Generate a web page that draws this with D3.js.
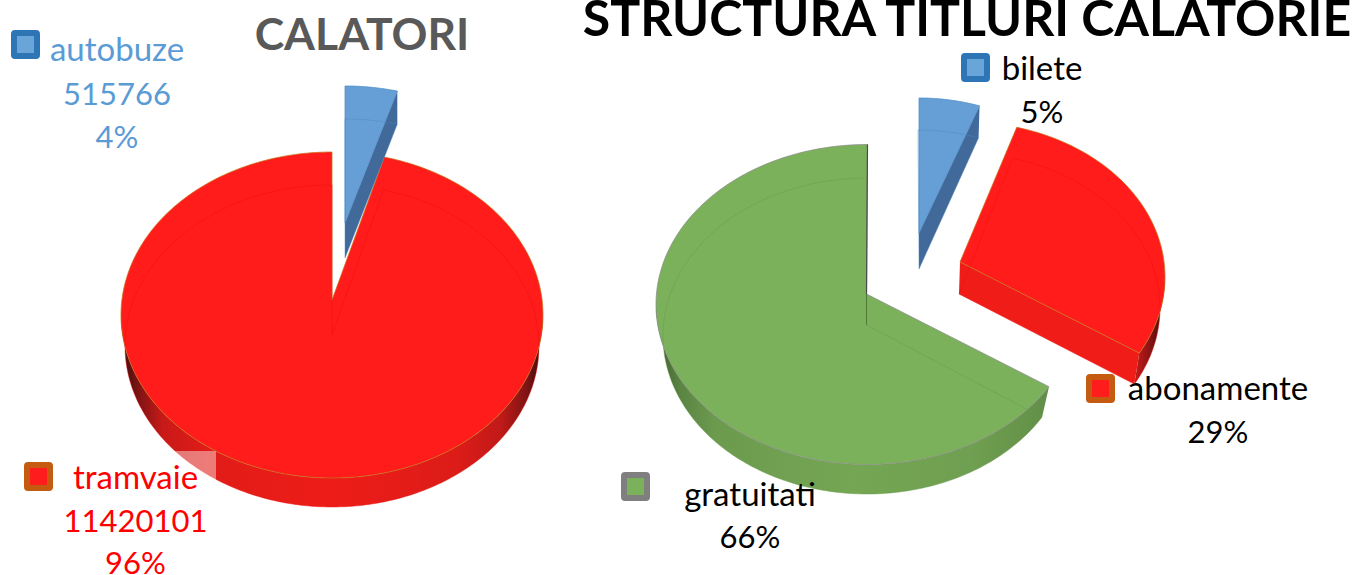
<!DOCTYPE html>
<html>
<head>
<meta charset="utf-8">
<title>Calatori</title>
<script src="https://cdn.jsdelivr.net/npm/d3@7"></script>
<style>
  html, body { margin: 0; padding: 0; background: #fff; overflow: hidden; }
  svg { display: block; }
  text { font-family: Lato, "Open Sans", sans-serif; }
</style>
</head>
<body>
<svg id="chart"></svg>
<script>
const width = 1356;
const height = 575;

// data
const calatoriNames = ["autobuze", "tramvaie"];
const calatoriValues = [515766, 11420101];
const calatoriPercents = ["4%", "96%"];

const titluriNames = ["bilete", "abonamente", "gratuitati"];
const titluriValues = [5, 29, 66];
const titluriPercents = ["5%", "29%", "66%"];

const BLUE = { top: "#659fd6", rim: "#4f8cc8", hair: "#4c88c2", face: "#41699a", border: "#2e75b6", key: "#6aa5da",
    side: [[0, "#41699a"], [1, "#41699a"]] };
const RED = { top: "#ff1c1a", rim: "#c8701a", hair: "#ee0f0f", face: "#f01c18", border: "#c55a11", key: "#ff1c1c",
    side: [[0, "#3f0d0d"], [0.05, "#8a1414"], [0.1, "#c81a18"], [0.2, "#e01c18"], [0.5, "#ee1c18"],
        [0.8, "#dc1c18"], [0.9, "#c01a18"], [0.96, "#801414"], [1, "#3a0c0c"]] };
const GREEN = { top: "#7bb15a", rim: "#8c8c8c", hair: "#6a9a4c", face: "#6b9a4e", border: "#7f7f7f", key: "#7bb15a",
    side: [[0, "#3f5e30"], [0.06, "#5a8442"], [0.15, "#6c9a4e"], [0.5, "#74a653"], [0.8, "#6f9f50"], [1, "#628f48"]] };
const RED_OPEN = Object.assign({}, RED, { side: [[0, "#c81c18"], [0.5, "#8a1414"], [1, "#3f0a0a"]] });

// every slice of the 3d pie is its own ellipse pair: top face and bottom face
const calatoriShapes = [
    { c: BLUE, top: [345, 249, 211, 163], bot: [345, 282, 211, 163], apex: [345, 223], apexBot: [345, 258], da0: 0, da1: -1.2 },
    { c: RED, top: [332, 315, 211, 163], bot: [332, 346, 207, 161], apex: [332, 300], apexBot: [332, 335], da0: -1.2, da1: 0 }
];
const titluriShapes = [
    { c: BLUE, top: [919, 258, 196, 160], bot: [918, 290, 196, 160], apex: [919, 233], apexBot: [919, 269], da0: 0, da1: 0 },
    { c: RED_OPEN, top: [965, 277, 200, 155], bot: [961, 308, 199, 155], apex: [960, 262], apexBot: [959, 294], da0: -3, da1: -3 },
    { c: GREEN, top: [867.5, 304.5, 211.5, 160], bot: [867, 336, 204, 158], apex: [866.5, 294], apexBot: [866.5, 325], da0: -1.5, da1: 0 }
];

const labelSpots = [
    { x: 117, y: [61, 105, 148], key: [11, 30], fill: "#5b9bd5", c: BLUE },
    { x: 135.5, y: [489, 532, 574], key: [24, 462], fill: "#ff0000", c: RED },
    { x: 1042, y: [80, 123], key: [961, 53], fill: "#000", c: BLUE },
    { x: 1218, y: [400, 443], key: [1086, 374], fill: "#000", c: RED },
    { x: 750, y: [506, 548], key: [621, 472], fill: "#000", c: GREEN }
];

const svg = d3.select("#chart")
    .attr("width", width)
    .attr("height", height);
const defs = svg.append("defs");

const pie = d3.pie().sort(null).value(d => d);

// unit circle -> pixels, one pair of scales for each ellipse
function ellipse([cx, cy, rx, ry]) {
    const x = d3.scaleLinear().domain([-1, 1]).range([cx - rx, cx + rx]);
    const y = d3.scaleLinear().domain([-1, 1]).range([cy + ry, cy - ry]);
    return a => [x(Math.sin(a)), y(Math.cos(a))];
}

function arcPoints(proj, a0, a1) {
    const n = Math.max(2, Math.ceil(Math.abs(a1 - a0) / 0.02));
    return d3.range(n + 1).map(i => proj(a0 + (a1 - a0) * i / n));
}

const line = d3.line();
const closed = pts => line(pts) + "Z";
const deg = Math.PI / 180;
let gradId = 0;

function sideGradient(stops) {
    const id = "side" + (gradId++);
    const g = defs.append("linearGradient").attr("id", id);
    stops.forEach(([offset, col]) => {
        g.append("stop").attr("offset", offset).attr("stop-color", col);
    });
    return `url(#${id})`;
}

function drawSlice(d, shape) {
    const a0 = d.startAngle + shape.da0 * deg;
    const a1 = d.endAngle + shape.da1 * deg;
    const top = ellipse(shape.top);
    const bot = ellipse(shape.bot);
    const g = svg.append("g");

    // outer wall, only the part turned to the viewer
    const s0 = Math.max(a0, Math.PI / 2);
    const s1 = Math.min(a1, 3 * Math.PI / 2);
    if (s1 > s0) {
        g.append("path")
            .attr("d", closed(arcPoints(top, s0, s1).concat(arcPoints(bot, s1, s0))))
            .attr("fill", sideGradient(shape.c.side));
    }

    // cut face at the end of the slice
    if (a1 < Math.PI) {
        g.append("path")
            .attr("d", closed([shape.apex, top(a1), bot(a1), shape.apexBot]))
            .attr("fill", shape.c.face);
    }

    // top face
    g.append("path")
        .attr("d", closed([shape.apex].concat(arcPoints(top, a0, a1))))
        .attr("fill", shape.c.top)
        .attr("stroke", shape.c.rim)
        .attr("stroke-opacity", 0.75)
        .attr("stroke-width", 1);

    // bottom outline shows through the glassy top
    g.append("path")
        .attr("d", closed([shape.apexBot].concat(arcPoints(bot, a0, a1))))
        .attr("fill", "none")
        .attr("stroke", shape.c.hair)
        .attr("stroke-opacity", 0.45)
        .attr("stroke-width", 1);

    // thin dark wall on the vertical cut of the green slice
    if (shape.c === GREEN) {
        g.append("path")
            .attr("d", line([top(a1), shape.apex]))
            .attr("fill", "none")
            .attr("stroke", "#4a4a4a")
            .attr("stroke-width", 1.2);
        g.append("path")
            .attr("d", line([shape.apex, shape.apexBot]))
            .attr("fill", "none")
            .attr("stroke", "#4f7a38")
            .attr("stroke-width", 1);
    }
}

// draw back to front so the open slices sit right
const calatoriArcs = pie(calatoriValues);
const titluriArcs = pie(titluriValues);
drawSlice(calatoriArcs[1], calatoriShapes[1]);
drawSlice(calatoriArcs[0], calatoriShapes[0]);
drawSlice(titluriArcs[2], titluriShapes[2]);
drawSlice(titluriArcs[0], titluriShapes[0]);
drawSlice(titluriArcs[1], titluriShapes[1]);

// washed out corner left by the label box on the left pie
svg.append("rect")
    .attr("x", 150).attr("y", 451)
    .attr("width", 66).attr("height", 40)
    .attr("fill", "#fff").attr("fill-opacity", 0.42);

const labelLines = [
    [calatoriNames[0], calatoriValues[0], calatoriPercents[0]],
    [calatoriNames[1], calatoriValues[1], calatoriPercents[1]],
    [titluriNames[0], titluriPercents[0]],
    [titluriNames[1], titluriPercents[1]],
    [titluriNames[2], titluriPercents[2]]
];

labelLines.forEach((lines, i) => {
    const spot = labelSpots[i];
    svg.append("rect")
        .attr("x", spot.key[0] + 3).attr("y", spot.key[1] + 3)
        .attr("width", 23).attr("height", 23)
        .attr("rx", 1)
        .attr("fill", spot.c.key)
        .attr("stroke", spot.c.border)
        .attr("stroke-width", 6);
    lines.forEach((t, j) => {
        svg.append("text")
            .attr("x", spot.x)
            .attr("y", spot.y[j])
            .attr("text-anchor", "middle")
            .attr("font-size", j === 0 ? 33 : 31)
            .attr("fill", spot.fill)
            .text(t);
    });
});

svg.append("text")
    .attr("x", 362).attr("y", 50)
    .attr("text-anchor", "middle")
    .attr("font-size", 44.5)
    .attr("font-weight", 700)
    .attr("fill", "#595959")
    .text("CALATORI");

svg.append("text")
    .attr("x", 967).attr("y", 36)
    .attr("text-anchor", "middle")
    .attr("font-size", 50)
    .attr("font-weight", 700)
    .attr("fill", "#000")
    .text("STRUCTURA TITLURI CALATORIE");
</script>
</body>
</html>
